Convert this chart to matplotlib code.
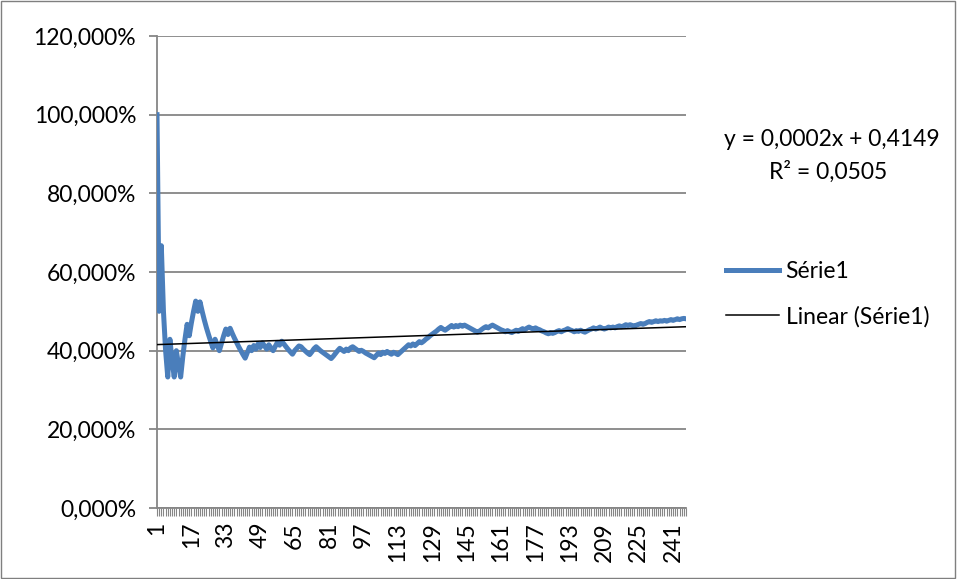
import numpy as np
import matplotlib
matplotlib.use("Agg")
import matplotlib.pyplot as plt
from matplotlib.ticker import FixedLocator, FuncFormatter
from matplotlib.patches import Rectangle

plt.rcParams['font.family'] = ['Lato', 'DejaVu Sans']

# series values (percent), one per category 1..247
serie1 = [
    100.0, 50.0, 66.7, 50.0, 40.0, 33.3, 42.9, 37.5, 33.3, 40.0,
    36.4, 33.3, 38.5, 42.9, 46.7, 43.8, 47.1, 50.0, 52.6, 50.0,
    52.4, 50.0, 47.8, 45.8, 44.0, 42.3, 40.7, 42.9, 41.4, 40.0,
    41.9, 43.8, 45.5, 44.1, 45.7, 44.4, 43.2, 42.1, 41.0, 40.0,
    39.0, 38.1, 39.5, 40.9, 40.0, 41.3, 40.4, 41.7, 40.8, 42.0,
    41.2, 40.4, 41.5, 40.7, 40.0, 41.1, 42.1, 41.4, 42.4, 41.7,
    41.0, 40.3, 39.7, 39.1, 40.0, 40.6, 41.2, 41.0, 40.4, 39.9,
    39.4, 39.0, 39.7, 40.5, 41.0, 40.5, 40.0, 39.6, 39.2, 38.8,
    38.4, 38.0, 38.6, 39.3, 40.0, 40.6, 40.2, 39.8, 40.4, 40.0,
    40.7, 41.0, 40.6, 40.2, 39.8, 40.1, 39.8, 39.4, 39.1, 38.8,
    38.5, 38.2, 38.8, 39.4, 39.0, 39.6, 39.3, 39.8, 39.4, 39.1,
    39.6, 39.3, 39.0, 39.5, 40.0, 40.5, 41.0, 41.5, 41.2, 41.7,
    41.3, 41.8, 42.3, 42.0, 42.4, 42.9, 43.3, 43.8, 44.2, 44.6,
    45.0, 45.5, 45.9, 45.5, 45.2, 45.6, 46.0, 46.4, 46.0, 46.4,
    46.1, 46.5, 46.2, 46.5, 46.2, 45.9, 45.6, 45.3, 45.0, 44.7,
    45.0, 45.4, 45.8, 46.1, 45.8, 46.2, 46.5, 46.2, 45.9, 45.6,
    45.3, 45.1, 44.8, 45.1, 44.8, 44.6, 44.9, 45.2, 44.9, 45.3,
    45.6, 45.3, 45.7, 46.0, 45.7, 45.5, 45.8, 45.5, 45.3, 45.0,
    44.8, 44.5, 44.3, 44.6, 44.4, 44.6, 44.9, 45.1, 44.8, 45.1,
    45.3, 45.6, 45.3, 45.1, 44.8, 45.1, 44.9, 45.2, 44.9, 44.7,
    45.0, 45.3, 45.5, 45.8, 45.5, 45.7, 46.0, 45.7, 45.5, 45.7,
    46.0, 45.8, 46.0, 45.8, 46.1, 46.3, 46.1, 46.3, 46.6, 46.4,
    46.6, 46.4, 46.2, 46.5, 46.7, 46.9, 46.7, 46.9, 47.2, 47.4,
    47.2, 47.4, 47.6, 47.4, 47.6, 47.5, 47.7, 47.5, 47.7, 47.9,
    47.7, 47.9, 48.1, 47.9, 48.1, 48.2, 48.1,
]
y = np.array(serie1) / 100.0
x = np.arange(1, len(y) + 1)

label_ticks = list(range(1, 242, 16))
y_ticks = [0, 0.2, 0.4, 0.6, 0.8, 1.0, 1.2]
eq_text = "y = 0,0002x + 0,4149"
r2_text = "R² = 0,0505"

blue = "#4A7EBB"
grid_c = "#868686"
fs = 16.5

fig = plt.figure(figsize=(9.57, 5.79), dpi=100)
ax = fig.add_axes([157 / 957, 1 - 508 / 579, (686 - 157) / 957, (508 - 36) / 579])

# linear trend
coef = np.polyfit(x, y, 1)
trend = np.polyval(coef, x)

ax.plot(x, y, color=blue, lw=3.6, label="Série1", solid_joinstyle="round", zorder=3)
ax.plot(x, trend, color="black", lw=1.1, label="Linear (Série1)", zorder=4)

ax.set_xlim(1, len(y))
ax.set_ylim(0, 1.2)
ax.set_yticks(y_ticks)
ax.yaxis.set_major_formatter(FuncFormatter(lambda v, p: f"{v*100:.3f}%".replace(".", ",")))
ax.grid(axis="y", color=grid_c, lw=1.3)
ax.set_axisbelow(True)

ax.xaxis.set_major_locator(FixedLocator(label_ticks))
ax.xaxis.set_minor_locator(FixedLocator(list(x)))
ax.set_xticklabels([str(t) for t in label_ticks], rotation=90)

for s in ["top", "right"]:
    ax.spines[s].set_visible(False)
for s in ["left", "bottom"]:
    ax.spines[s].set_color(grid_c)
    ax.spines[s].set_linewidth(1.3)

ax.tick_params(axis="both", which="both", direction="out", color=grid_c, length=6, width=0.8,
               labelsize=fs, colors="black")
ax.tick_params(axis="y", which="major", length=6, width=1.3, pad=9, color=grid_c)
ax.tick_params(axis="x", which="major", pad=4)

fig.legend(loc="center left", bbox_to_anchor=(726 / 957, 1 - 294 / 579), frameon=False,
           fontsize=fs, handlelength=2.3, handletextpad=0.3, labelspacing=1.05,
           borderpad=0, borderaxespad=0)

fig.text(832 / 957, 1 - 140 / 579, eq_text, ha="center", va="center", fontsize=fs)
fig.text(828 / 957, 1 - 172 / 579, r2_text, ha="center", va="center", fontsize=fs)

fig.patches.append(Rectangle((0.001, 0.001), 0.997, 0.997, transform=fig.transFigure,
                             fill=False, edgecolor="#7f7f7f", lw=1))

fig.savefig("out.png", dpi=100)
